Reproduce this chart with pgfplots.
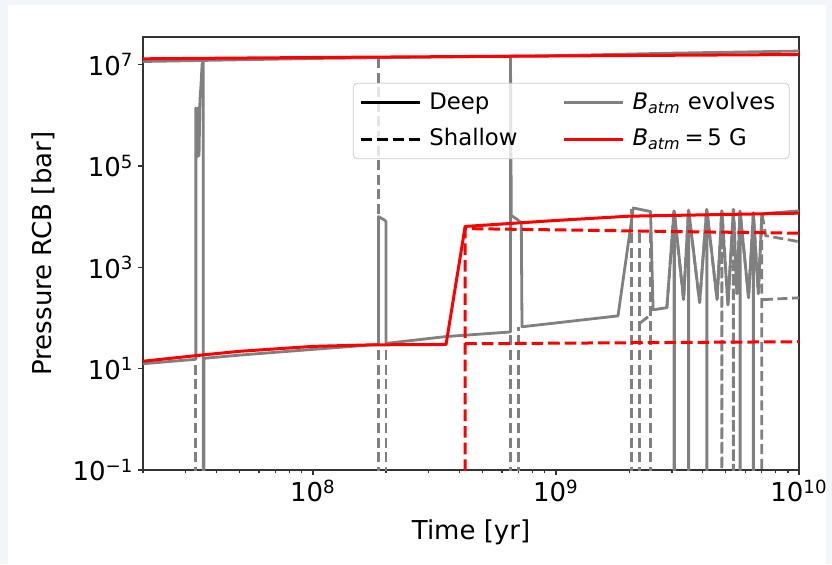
\documentclass[border=0pt]{standalone}
\usepackage{pgfplots}
\pgfplotsset{compat=1.18}
\usepackage{fontspec}
\setmainfont{DejaVu Sans}
\definecolor{bgc}{HTML}{F2F6FA}
\definecolor{mgray}{HTML}{808080}
\definecolor{mred}{HTML}{FF0000}
\begin{document}
\fontsize{13}{15.6}\selectfont
\begin{tikzpicture}
\fill[bgc] (-71.5pt,-47pt) rectangle (344.5pt,235pt);
\fill[white] (-67.5pt,-47pt) rectangle (341.5pt,232.5pt);
\begin{axis}[
  scale only axis, width=328pt, height=216.5pt,
  xmode=log, ymode=log,
  xmin=2e7, xmax=1e10, ymin=0.1, ymax=3.5e7,
  axis line style={black!80, line width=0.6pt},
  tick style={black!80, line width=0.6pt},
  tick align=outside, xtick pos=bottom, ytick pos=left,
  major tick length=2.6pt, minor tick length=1.6pt,
  xtick={1e8,1e9,1e10},
  xticklabels={10\textsuperscript{8},10\textsuperscript{9},10\textsuperscript{10}},
  minor xtick={2e7,3e7,4e7,5e7,6e7,7e7,8e7,9e7,2e8,3e8,4e8,5e8,6e8,7e8,8e8,9e8,2e9,3e9,4e9,5e9,6e9,7e9,8e9,9e9},
  ytick={1e-1,1e1,1e3,1e5,1e7},
  yticklabels={10\textsuperscript{−1},10\textsuperscript{1},10\textsuperscript{3},10\textsuperscript{5},10\textsuperscript{7}},
  minor ytick={},
  xticklabel style={inner sep=2pt},
  yticklabel style={inner sep=2pt},
  xlabel={Time [yr]}, ylabel={Pressure RCB [bar]},
  xlabel style={at={(axis description cs:0.5,-0.143)}, anchor=center},
  ylabel style={at={(axis description cs:-0.1524,0.5)}, anchor=center, rotate=0},
  legend columns=2,
  legend cell align=left,
  legend image code/.code={\draw[#1] (0pt,0pt) -- (25pt,0pt); \path (0pt,0pt) -- (29.5pt,0pt);},
  legend style={at={(rel axis cs:0.32,0.894)}, anchor=north west,
    font=\fontsize{11.4}{13.7}\selectfont,
    draw=black!20, rounded corners=2pt, fill=white, fill opacity=0.8, text opacity=1,
    inner xsep=3pt, inner ysep=2.5pt, row sep=3.5pt,
    /tikz/every even column/.append style={column sep=18.5pt},
    nodes={inner xsep=4pt}},
  gl/.style={mgray, line width=1.4pt, line join=round},
  gd/.style={mgray, line width=1.4pt, dash pattern=on 5pt off 2.3pt},
  rl/.style={mred, line width=1.5pt, line join=round},
  rd/.style={mred, line width=1.5pt, dash pattern=on 5.8pt off 2.5pt},
]
\addlegendimage{black, line width=1.5pt}
\addlegendentry{Deep}
\addlegendimage{mgray, line width=1.5pt}
\addlegendentry{\textit{B}\textsubscript{\textit{atm}} evolves}
\addlegendimage{black, line width=1.5pt, dash pattern=on 5.6pt off 2.4pt}
\addlegendentry{Shallow}
\addlegendimage{mred, line width=1.5pt}
\addlegendentry{\textit{B}\textsubscript{\textit{atm}}\,=\,5 G}

% ---- gray (B_atm evolves), deep ----
\addplot[gl, forget plot] coordinates {(2e7,1.15e7) (1e8,1.32e7) (1e9,1.5e7) (3e9,1.68e7) (1e10,1.85e7)};
\addplot[gl, forget plot] coordinates {
(2e7,12.5) (3.30e7,15.3) (3.30e7,1.4e6) (3.34e7,1.5e5) (3.37e7,1.4e6) (3.40e7,1.6e5) (3.43e7,2e6) (3.46e7,3.7e6) (3.50e7,1.0e7) (3.54e7,1.2e7) (3.54e7,0.01) (3.56e7,0.01) (3.56e7,16)
(5e7,18.5) (1e8,24) (1.75e8,29.5) (1.86e8,30) (1.86e8,1.0e4) (1.96e8,8.7e3) (2.0e8,8e3) (2.0e8,31.5)
(3.53e8,43) (6.5e8,53) (6.5e8,1.45e7) (6.55e8,1.05e4) (6.95e8,8.7e3) (7.2e8,7.5e3) (7.25e8,67)
(1.8e9,110) (2.08e9,1.48e4) (2.45e9,1.26e4) (2.51e9,145) (2.86e9,160)
(3.06e9,1.3e4) (3.06e9,0.01) (3.07e9,0.01) (3.07e9,1.25e4) (3.35e9,230)
(3.51e9,1.35e4) (3.51e9,0.01) (3.52e9,0.01) (3.52e9,1.3e4) (3.9e9,200)
(4.17e9,1.4e4) (4.17e9,0.01) (4.18e9,0.01) (4.18e9,1.35e4) (4.6e9,230)
(4.81e9,1.3e4) (5.1e9,180) (5.37e9,1.4e4) (5.55e9,300)
(5.72e9,1.3e4) (5.72e9,0.01) (5.73e9,0.01) (5.73e9,1.2e4) (6.2e9,250)
(6.49e9,1.2e4) (6.49e9,0.01) (6.5e9,0.01) (6.5e9,1e4) (6.8e9,300) (7.03e9,1.1e4)
(7.2e9,1.15e4) (1e10,1.3e4)};
% ---- gray, shallow ----
\addplot[gd, forget plot] coordinates {(3.30e7,0.01) (3.30e7,15.3)};
\addplot[gd, forget plot] coordinates {(1.86e8,0.01) (1.86e8,1.35e7)};
\addplot[gd, forget plot] coordinates {(2.0e8,0.01) (2.0e8,31)};
\addplot[gd, forget plot] coordinates {(6.5e8,0.01) (6.5e8,53)};
\addplot[gd, forget plot] coordinates {(7.0e8,0.01) (7.0e8,67)};
\addplot[gd, forget plot] coordinates {(2.05e9,0.01) (2.05e9,1.4e4)};
\addplot[gd, forget plot] coordinates {(2.2e9,0.01) (2.2e9,4.8e3)};
\addplot[gd, forget plot] coordinates {(2.22e9,80) (2.45e9,115)};
\addplot[gd, forget plot] coordinates {(2.45e9,0.01) (2.45e9,4.8e3)};
\addplot[gd, forget plot] coordinates {
(2.86e9,160) (3.06e9,1.3e4) (3.35e9,230) (3.51e9,1.35e4) (3.9e9,200) (4.17e9,1.4e4) (4.6e9,230)
(4.81e9,1.3e4) (4.81e9,0.01) (4.82e9,0.01) (4.82e9,1.3e4) (5.1e9,180)
(5.37e9,1.4e4) (5.37e9,0.01) (5.38e9,0.01) (5.38e9,1.4e4) (5.55e9,300)
(5.72e9,1.3e4) (6.2e9,250) (6.49e9,1.2e4) (6.8e9,300) (7.03e9,1e4) (7.03e9,0.01)};
\addplot[gd, forget plot] coordinates {(7.05e9,1.1e4) (7.3e9,4.2e3) (1e10,3.2e3)};
\addplot[gd, forget plot] coordinates {(7.1e9,230) (1e10,250)};

% ---- red (B_atm = 5 G) ----
\addplot[rl, forget plot] coordinates {(2e7,1.3e7) (1e8,1.38e7) (1e9,1.48e7) (1e10,1.58e7)};
\addplot[rl, forget plot] coordinates {(2e7,14) (3.5e7,18.6) (5e7,22) (1e8,27.5) (1.75e8,29.5) (3.53e8,30) (4.23e8,6.4e3) (1e9,8.4e3) (2e9,1.02e4) (1e10,1.17e4)};
\addplot[rd, forget plot] coordinates {(4.23e8,0.01) (4.23e8,5.8e3) (1e10,4.7e3)};
\addplot[rd, forget plot] coordinates {(4.23e8,31) (1e10,34)};
\end{axis}
\end{tikzpicture}
\end{document}
